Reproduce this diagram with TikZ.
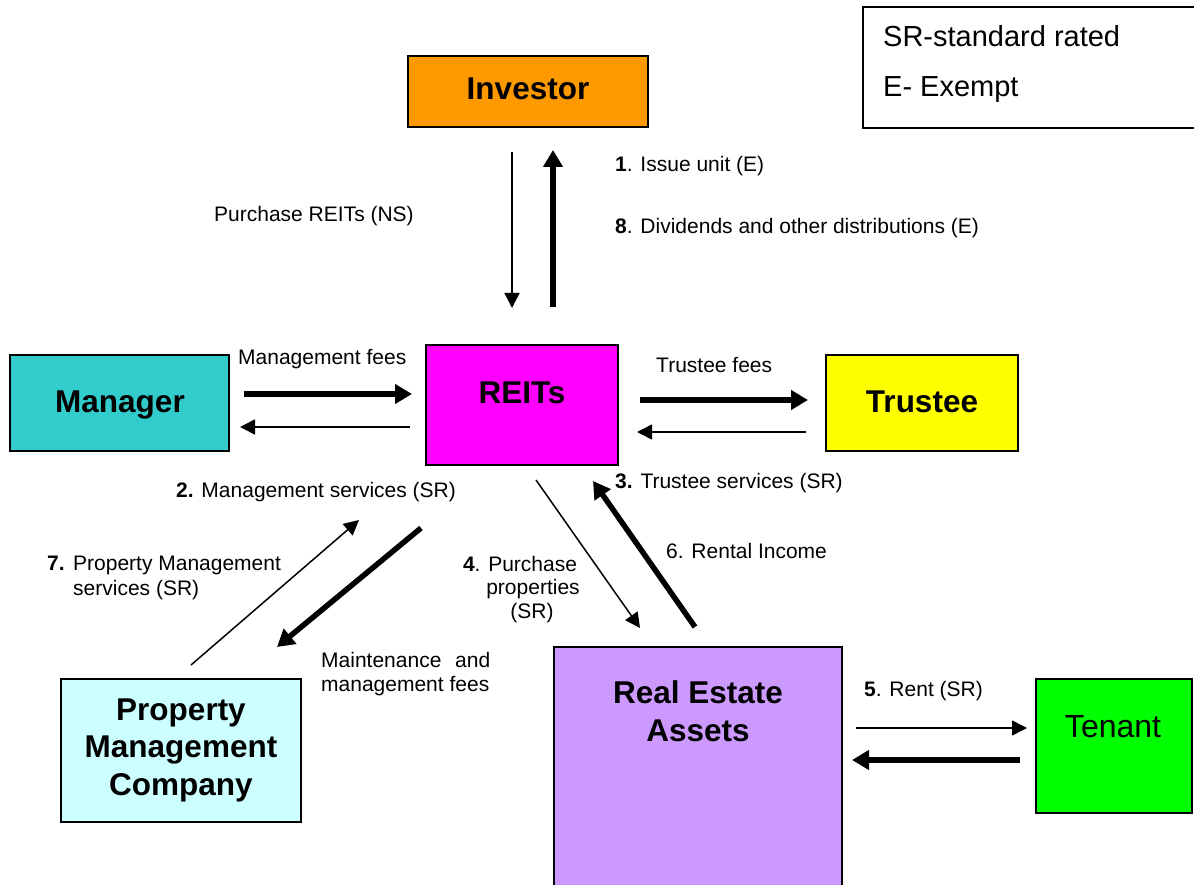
\documentclass[tikz,border=0pt]{standalone}
\usepackage{fontspec}
\setmainfont{Liberation Sans}
\usetikzlibrary{arrows.meta}
\definecolor{cinv}{HTML}{FF9900}
\definecolor{cman}{HTML}{33CCCC}
\definecolor{creit}{HTML}{FF00FF}
\definecolor{ctru}{HTML}{FFFF00}
\definecolor{cpmc}{HTML}{CCFFFF}
\definecolor{crea}{HTML}{CC99FF}
\definecolor{cten}{HTML}{00FF00}
\begin{document}
\begin{tikzpicture}[x=1pt,y=-1pt,
  boxline/.style={draw=black,line width=1.5pt},
  ttl/.style={font=\fontsize{31.5}{38}\selectfont\bfseries,inner sep=0pt,anchor=base},
  ttlr/.style={font=\fontsize{32}{38}\selectfont,inner sep=0pt,anchor=base},
  lbl/.style={font=\fontsize{21}{24}\selectfont,inner sep=0pt,anchor=base west},
  lblc/.style={font=\fontsize{21}{24}\selectfont,inner sep=0pt,anchor=base},
  leg/.style={font=\fontsize{29}{34}\selectfont,inner sep=0pt,anchor=base west},
  thinarrow/.style={line width=1.5pt,-{Triangle[length=15pt,width=15pt]}},
  thickarrow/.style={line width=5.5pt,-{Triangle[length=17pt,width=19pt]}}]
\useasboundingbox (0,0) rectangle (1194,885);
\clip (0,0) rectangle (1194,885);
% boxes
\draw[boxline,fill=cinv] (408,56) rectangle (648,127);
\draw[boxline] (863,7) rectangle (1200,128);
\draw[boxline,fill=cman] (10,355) rectangle (229,451);
\draw[boxline,fill=creit] (426,345) rectangle (618,465);
\draw[boxline,fill=ctru] (826,355) rectangle (1018,451);
\draw[boxline,fill=cpmc] (61,679) rectangle (301,822);
\draw[boxline,fill=crea] (554,647) rectangle (842,895);
\draw[boxline,fill=cten] (1036,679) rectangle (1192,813);
% titles
\node[ttl] (investor) at (528,100) {Investor};
\node[ttl] (manager) at (120,412) {Manager};
\node[ttl] (reits) at (522,403) {REITs};
\node[ttl] (trustee) at (922,412) {Trustee};
\node[ttl] (pmc1) at (181,720) {Property};
\node[ttl] (pmc2) at (181,757) {Management};
\node[ttl] (pmc3) at (181,795) {Company};
\node[ttl] (rea1) at (698,703) {Real Estate};
\node[ttl] (rea2) at (698,741) {Assets};
\node[ttlr] (tenant) at (1113,737.5) {Tenant};
% legend
\node[leg] (leg1) at (883,46.5) {SR-standard rated};
\node[leg] (leg2) at (883,96.5) {E- Exempt};
% arrow end points
\coordinate (a1s) at (512,152); \coordinate (a1e) at (512,308);
\coordinate (a2s) at (553,307); \coordinate (a2e) at (553,150);
\coordinate (a3s) at (244,394); \coordinate (a3e) at (412,394);
\coordinate (a4s) at (410,427); \coordinate (a4e) at (240,427);
\coordinate (a5s) at (640,400); \coordinate (a5e) at (808,400);
\coordinate (a6s) at (806,432); \coordinate (a6e) at (637,432);
\coordinate (a7s) at (536,480); \coordinate (a7e) at (640,628);
\coordinate (a8s) at (695,627); \coordinate (a8e) at (593,481);
\coordinate (a9s) at (191,665); \coordinate (a9e) at (359,520);
\coordinate (a10s) at (421,528); \coordinate (a10e) at (277,647);
\coordinate (a11s) at (856,728); \coordinate (a11e) at (1027,728);
\coordinate (a12s) at (1020,760); \coordinate (a12e) at (852,760);
\draw[thinarrow] (a1s) -- (a1e);
\draw[thickarrow] (a2s) -- (a2e);
\draw[thickarrow] (a3s) -- (a3e);
\draw[thinarrow] (a4s) -- (a4e);
\draw[thickarrow] (a5s) -- (a5e);
\draw[thinarrow] (a6s) -- (a6e);
\draw[thinarrow] (a7s) -- (a7e);
\draw[thickarrow] (a8s) -- (a8e);
\draw[thinarrow] (a9s) -- (a9e);
\draw[thickarrow] (a10s) -- (a10e);
\draw[thinarrow] (a11s) -- (a11e);
\draw[thickarrow] (a12s) -- (a12e);
% labels
\node[lbl] (lpur) at (214,221.5) {Purchase REITs (NS)};
\node[lbl] (l1) at (615,171.5) {\textbf{1}. Issue unit (E)};
\node[lbl] (l8) at (615,233.5) {\textbf{8}. Dividends and other distributions (E)};
\node[lbl] (lmf) at (238,364.5) {Management fees};
\node[lbl] (ltf) at (656,372.5) {Trustee fees};
\node[lbl] (l2) at (176,497.5) {\textbf{2.} Management services (SR)};
\node[lbl] (l3) at (615,488.5) {\textbf{3.} Trustee services (SR)};
\node[lbl] (l6) at (666,558.5) {6. Rental Income};
\node[lblc] (l4a) at (520,571.5) {\textbf{4}. Purchase};
\node[lblc] (l4b) at (533,594.5) {properties};
\node[lblc] (l4c) at (532,618.5) {(SR)};
\node[lbl] (l7num) at (47,570.5) {\textbf{7.}};
\node[lbl] (l7a) at (73,570.5) {Property Management};
\node[lbl] (l7b) at (73,595) {services (SR)};
\node[lbl] (lma) at (321,667.5) {Maintenance};
\node[lbl] (lmb) at (455,667.5) {and};
\node[lbl] (lmc) at (321,691.5) {management fees};
\node[lbl] (l5) at (864,696.5) {\textbf{5}. Rent (SR)};
\end{tikzpicture}
\end{document}
